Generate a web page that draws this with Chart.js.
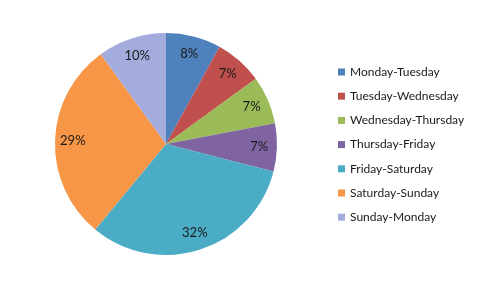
<!DOCTYPE html>
<html><head><meta charset="utf-8">
<script src="https://cdn.jsdelivr.net/npm/chart.js@4/dist/chart.umd.min.js"></script>
<style>html,body{margin:0;padding:0;background:#fff}#wrap{width:481px;height:290px;position:relative}</style>
</head><body><div id="wrap"><canvas id="c" width="481" height="290"></canvas></div>
<script>
const categories = ["Monday-Tuesday","Tuesday-Wednesday","Wednesday-Thursday","Thursday-Friday","Friday-Saturday","Saturday-Sunday","Sunday-Monday"];
const values = [8,7,7,7,32,29,10];
const colors = ["#4F81BD","#C0504D","#9BBB59","#8064A2","#4BACC6","#F79646","#A3ACDD"];

const labelPlugin = {
  id: 'pctLabels',
  afterDatasetsDraw(chart) {
    const ctx = chart.ctx;
    const meta = chart.getDatasetMeta(0);
    const total = values.reduce((a,b)=>a+b,0);
    ctx.save();
    ctx.font = '13px Lato, "Open Sans", sans-serif';
    ctx.fillStyle = '#1a1a1a';
    ctx.textAlign = 'center';
    ctx.textBaseline = 'middle';
    meta.data.forEach((arc, i) => {
      const mid = (arc.startAngle + arc.endAngle) / 2;
      const r = arc.outerRadius * 0.84;
      const x = arc.x + Math.cos(mid) * r;
      const y = arc.y + Math.sin(mid) * r;
      ctx.fillText(Math.round(values[i] / total * 100) + '%', x, y);
    });
    ctx.restore();
  }
};

const legendPlugin = {
  id: 'sideLegend',
  afterDraw(chart) {
    const ctx = chart.ctx;
    ctx.save();
    ctx.font = '12px Lato, "Open Sans", sans-serif';
    ctx.textBaseline = 'middle';
    ctx.textAlign = 'left';
    categories.forEach((c, i) => {
      const y = 72 + i * 24.2;
      ctx.fillStyle = colors[i];
      ctx.fillRect(338, y - 3.5, 7, 7);
      ctx.fillStyle = '#1a1a1a';
      ctx.fillText(c, 350, y);
    });
    ctx.restore();
  }
};

new Chart(document.getElementById('c'), {
  type: 'pie',
  data: { labels: categories, datasets: [{ data: values, backgroundColor: colors, borderWidth: 0 }] },
  options: {
    responsive: false,
    animation: false,
    layout: { padding: { left: 55, right: 204, top: 33, bottom: 35 } },
    plugins: { legend: { display: false }, tooltip: { enabled: false } }
  },
  plugins: [labelPlugin, legendPlugin]
});
</script></body></html>
